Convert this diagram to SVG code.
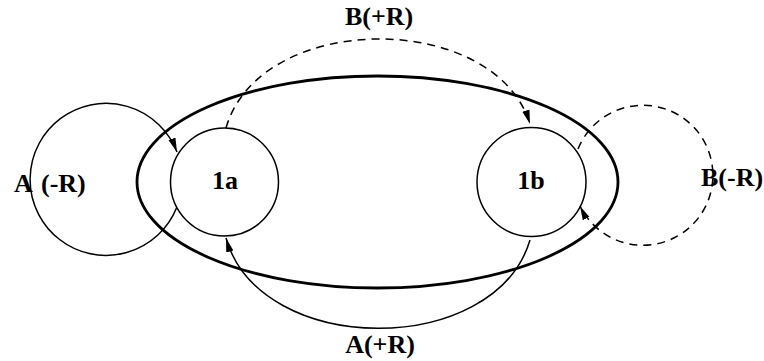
<svg xmlns="http://www.w3.org/2000/svg" width="764" height="361" viewBox="0 0 764 361">
<style>
.node{fill:none;stroke:#000;stroke-width:1.5}
.big{fill:none;stroke:#000;stroke-width:2.8}
.edge{fill:none;stroke:#000;stroke-width:1.5}
.dash{stroke-dasharray:8 6}
.lbl{font-family:"Liberation Serif","Times New Roman","DejaVu Serif",serif;font-weight:bold;font-size:26px;fill:#000}
</style>
<defs>
<marker id="arr" viewBox="0 0 14 9" refX="14" refY="4.5" markerWidth="14" markerHeight="9" markerUnits="userSpaceOnUse" orient="auto">
<path d="M0,0.8 L14,4.5 L0,8.2 Z" fill="#000" stroke="none"/>
</marker>
</defs>
<rect width="764" height="361" fill="#fff"/>
<g id="region">
<ellipse class="big" cx="377.5" cy="182" rx="240.5" ry="106"/>
</g>
<g id="node-1a">
<circle class="node" cx="224.5" cy="182" r="54"/>
<text class="lbl" x="225" y="189" text-anchor="middle">1a</text>
</g>
<g id="node-1b">
<circle class="node" cx="531.5" cy="182" r="54.5"/>
<text class="lbl" x="531" y="189" text-anchor="middle">1b</text>
</g>
<g id="connectors">
<path id="e-A-minus" class="edge" d="M176.5 208 A76 76 0 1 1 177 152" marker-end="url(#arr)"/>
<path id="e-B-minus" class="edge dash" d="M578 149 A70 70 0 1 1 580 206" marker-end="url(#arr)"/>
<path id="e-B-plus" class="edge dash" d="M226 128 C260 10 495 10 530 124" marker-end="url(#arr)"/>
<path id="e-A-plus" class="edge" d="M530 240 C495 358 260 358 226 238" marker-end="url(#arr)"/>
<text class="lbl" x="14" y="192">A</text>
<text class="lbl" x="41" y="192">(-R)</text>
<text class="lbl" x="701" y="186">B(-R)</text>
<text class="lbl" x="379" y="25" text-anchor="middle">B(+R)</text>
<text class="lbl" x="380" y="353" text-anchor="middle">A(+R)</text>
</g>
</svg>
